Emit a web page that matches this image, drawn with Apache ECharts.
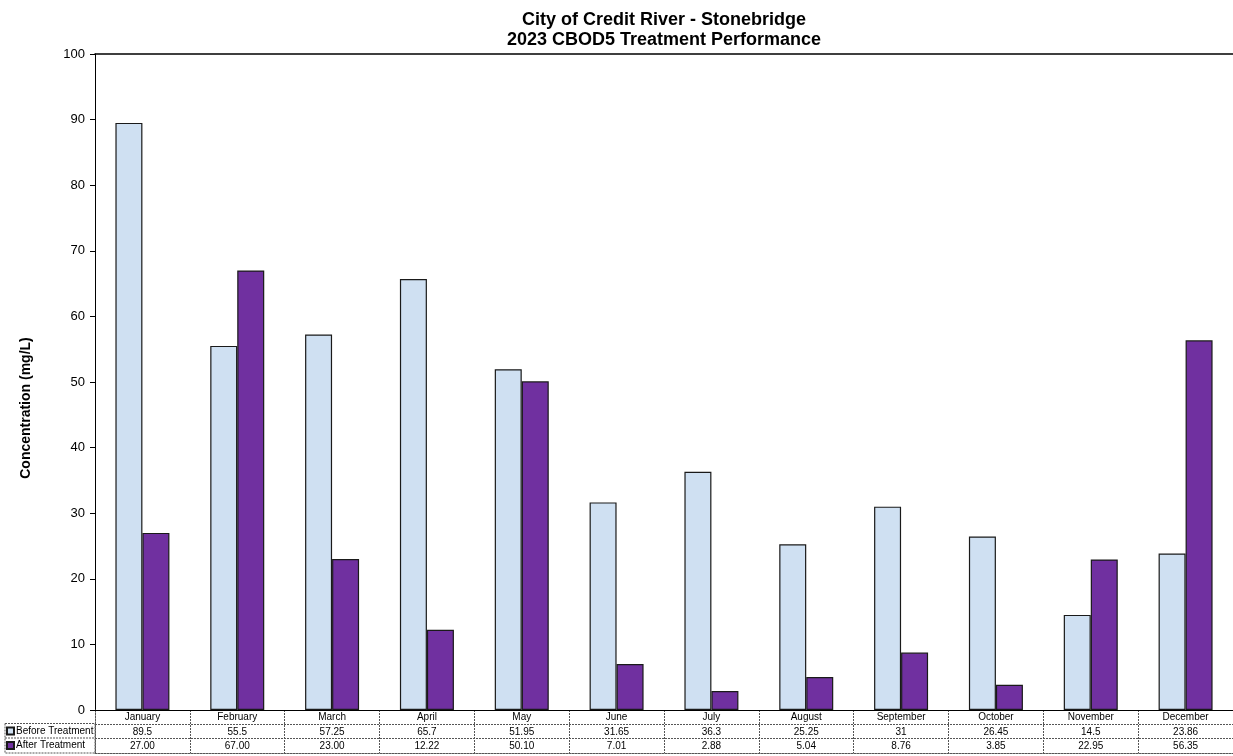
<!DOCTYPE html>
<html><head><meta charset="utf-8">
<script src="https://cdn.jsdelivr.net/npm/echarts@6/dist/echarts.min.js"></script>
<style>html,body{margin:0;padding:0;background:#fff}#c{width:1233px;height:756px}</style>
</head><body><div id="c"></div>
<script>
const months = ['January','February','March','April','May','June','July','August','September','October','November','December'];
const beforeTreatment = [89.5, 55.5, 57.25, 65.7, 51.95, 31.65, 36.3, 25.25, 31, 26.45, 14.5, 23.86];
const afterTreatment = [27.00, 67.00, 23.00, 12.22, 50.10, 7.01, 2.88, 5.04, 8.76, 3.85, 22.95, 56.35];
const tableRows = ['m','b','a'];

const FONT = 'Liberation Sans, Arial, sans-serif';
const chart = echarts.init(document.getElementById('c'), null, {renderer:'canvas'});
const dash = {color:'#555', type:[2,1], width:1};
chart.setOption({
  animation:false,
  textStyle:{fontFamily:FONT},
  title:{
    text:'City of Credit River - Stonebridge\n2023 CBOD5 Treatment Performance',
    left:664, top:10, textAlign:'center', padding:0,
    textStyle:{fontSize:18, fontWeight:'bold', color:'#000', lineHeight:20, fontFamily:FONT}
  },
  legend:{
    orient:'vertical', left:6, top:726, padding:0, itemGap:4.5, itemWidth:7, itemHeight:7, icon:'rect',
    textStyle:{fontSize:10, color:'#000', fontFamily:FONT, padding:[0,0,0,-3]},
    data:['Before Treatment','After Treatment']
  },
  grid:[
    {left:95, right:0, top:54, bottom:46, containLabel:false},
    {left:95, right:0, top:710, height:43, show:false}
  ],
  xAxis:[
    {type:'category', data:months, gridIndex:0, position:'bottom',
     axisLine:{lineStyle:{color:'#000', width:1}}, axisTick:{show:false},
     axisLabel:{interval:0, margin:0, fontFamily:FONT, color:'#000',
       formatter:(v, i)=> '{m|'+v+'}\n{b|'+beforeTreatment[i]+'}\n{a|'+afterTreatment[i].toFixed(2)+'}',
       rich:{m:{fontSize:10, lineHeight:14.5, fontFamily:FONT}, b:{fontSize:10, lineHeight:14.5, fontFamily:FONT}, a:{fontSize:10, lineHeight:14.5, fontFamily:FONT}}}},
    {type:'category', data:months, gridIndex:0, position:'top',
     axisLine:{lineStyle:{color:'#000', width:1.5}}, axisTick:{show:false}, axisLabel:{show:false}},
    {type:'category', data:months, gridIndex:1,
     axisLine:{show:true, lineStyle:dash}, axisTick:{show:false}, axisLabel:{show:false},
     splitLine:{show:true, interval:0, lineStyle:dash}}
  ],
  yAxis:[
    {type:'value', min:0, max:100, interval:10, gridIndex:0,
     name:'Concentration (mg/L)', nameLocation:'middle', nameGap:62,
     nameTextStyle:{fontSize:14, fontWeight:'bold', color:'#000', fontFamily:FONT, padding:[0,52,0,0]},
     axisLine:{show:true, lineStyle:{color:'#000', width:1}},
     axisTick:{show:true, inside:false, length:5, lineStyle:{color:'#000'}},
     axisLabel:{fontSize:13, color:'#000', margin:10, fontFamily:FONT},
     splitLine:{show:false}},
    {type:'category', data:tableRows, gridIndex:1, inverse:true,
     axisLine:{show:true, lineStyle:dash}, axisTick:{show:false}, axisLabel:{show:false},
     splitLine:{show:true, interval:0, lineStyle:dash}}
  ],
  series:[
    {name:'Before Treatment', type:'bar', data:beforeTreatment, xAxisIndex:0, yAxisIndex:0,
     barWidth:27, barGap:'0%',
     itemStyle:{color:'#CFE0F2', borderColor:'#1a1a1a', borderWidth:1.2}},
    {name:'After Treatment', type:'bar', data:afterTreatment, xAxisIndex:0, yAxisIndex:0,
     barWidth:27, barGap:'0%',
     itemStyle:{color:'#7030A0', borderColor:'#1a1a1a', borderWidth:1.2}}
  ],
  graphic:[
    {type:'rect', shape:{x:5, y:723.5, width:90, height:29.5}, style:{fill:null, stroke:'#555', lineWidth:1, lineDash:[2,1]}, silent:true},
    {type:'line', shape:{x1:5, y1:738, x2:95, y2:738}, style:{stroke:'#555', lineWidth:1, lineDash:[2,1]}, silent:true}
  ]
});
</script></body></html>
